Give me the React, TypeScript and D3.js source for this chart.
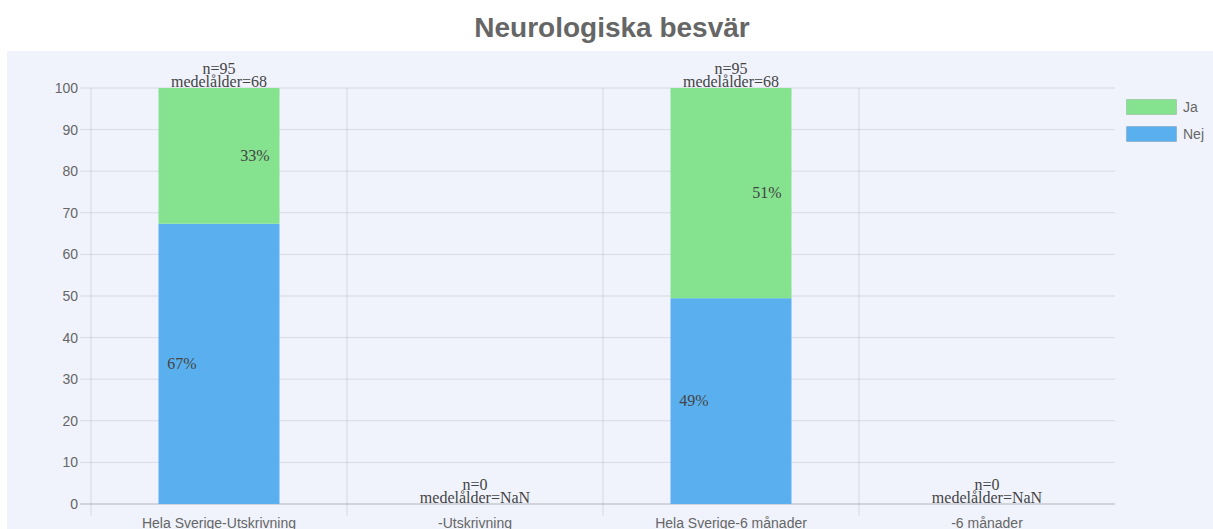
import React from "react";
import * as d3 from "d3";

const categories = ["Hela Sverige-Utskrivning", "-Utskrivning", "Hela Sverige-6 månader", "-6 månader"];
const nejValues = [67.37, 0, 49.47, 0];
const jaValues = [32.63, 0, 50.53, 0];
const nLabels = ["n=95", "n=0", "n=95", "n=0"];
const ageLabels = ["medelålder=68", "medelålder=NaN", "medelålder=68", "medelålder=NaN"];
const yTicks = [0, 10, 20, 30, 40, 50, 60, 70, 80, 90, 100];
const seriesNames = ["Ja", "Nej"];

const W = 1213, H = 529;
const GREEN = "rgb(133,226,143)";
const BLUE = "rgb(90,176,238)";

export default function App() {
  const x = d3.scaleBand<string>().domain(categories).range([91, 1115]);
  const y = d3.scaleLinear().domain([0, 100]).range([504, 88]);
  const barW = 121;
  const stack = categories.map((c, i) => ({ c, nej: nejValues[i], ja: jaValues[i] }));
  const serif = "'Liberation Serif', 'Times New Roman', serif";
  const sans = "'Liberation Sans', Arial, Helvetica, sans-serif";
  const gridXs = categories.map((c) => x(c)!);

  return (
    <svg width={W} height={H} style={{ position: "absolute", left: 0, top: 0 }}>
      <rect x={0} y={0} width={W} height={H} fill="#fff" />
      <rect x={7} y={51} width={W - 7} height={H - 51} fill="rgb(240,243,252)" />
      <text x={612} y={37} textAnchor="middle" fontFamily={sans} fontWeight="bold" fontSize={28} fill="#666">
        Neurologiska besvär
      </text>
      {yTicks.map((t) => (
        <g key={t}>
          <line x1={80} x2={1115} y1={y(t)} y2={y(t)} stroke={t === 0 ? "rgba(0,0,0,0.25)" : "rgba(0,0,0,0.1)"} />
          <text x={78} y={y(t) + 5} textAnchor="end" fontFamily={sans} fontSize={14} fill="#666">{t}</text>
        </g>
      ))}
      {gridXs.map((gx, i) => (
        <line key={i} x1={gx} x2={gx} y1={88} y2={516} stroke="rgba(0,0,0,0.1)" />
      ))}
      {stack.map((d) => {
        const cx = x(d.c)! + x.bandwidth() / 2;
        return (
          <g key={d.c}>
            {d.nej > 0 && (
              <rect x={cx - barW / 2} width={barW} y={y(d.nej)} height={y(0) - y(d.nej)} fill={BLUE} />
            )}
            {d.ja > 0 && (
              <rect x={cx - barW / 2} width={barW} y={y(d.nej + d.ja)} height={y(d.nej) - y(d.nej + d.ja)} fill={GREEN} />
            )}
            {d.ja > 0 && (
              <text x={cx + 36} y={(y(d.nej + d.ja) + y(d.nej)) / 2 + 5} textAnchor="middle" fontFamily={serif} fontSize={16} fill="#444">
                {Math.round(d.ja)}%
              </text>
            )}
            {d.nej > 0 && (
              <text x={cx - 37} y={(y(d.nej) + y(0)) / 2 + 5} textAnchor="middle" fontFamily={serif} fontSize={16} fill="#444">
                {Math.round(d.nej)}%
              </text>
            )}
          </g>
        );
      })}
      {stack.map((d, i) => {
        const cx = x(d.c)! + x.bandwidth() / 2;
        const top = y(d.nej + d.ja);
        return (
          <g key={"l" + i}>
            <text x={cx} y={top - 14} textAnchor="middle" fontFamily={serif} fontSize={16} fill="#444">{nLabels[i]}</text>
            <text x={cx} y={top - 1} textAnchor="middle" fontFamily={serif} fontSize={16} fill="#444">{ageLabels[i]}</text>
          </g>
        );
      })}
      {categories.map((c) => (
        <text key={c} x={x(c)! + x.bandwidth() / 2} y={528} textAnchor="middle" fontFamily={sans} fontSize={14} fill="#666">{c}</text>
      ))}
      {seriesNames.map((s, i) => (
        <g key={s}>
          <rect x={1126.5} y={99.5 + i * 27} width={50} height={15} fill={s === "Ja" ? GREEN : BLUE} stroke="rgba(0,0,0,0.12)" />
          <text x={1183} y={112 + i * 27} fontFamily={sans} fontSize={14} fill="#666">{s}</text>
        </g>
      ))}
    </svg>
  );
}
